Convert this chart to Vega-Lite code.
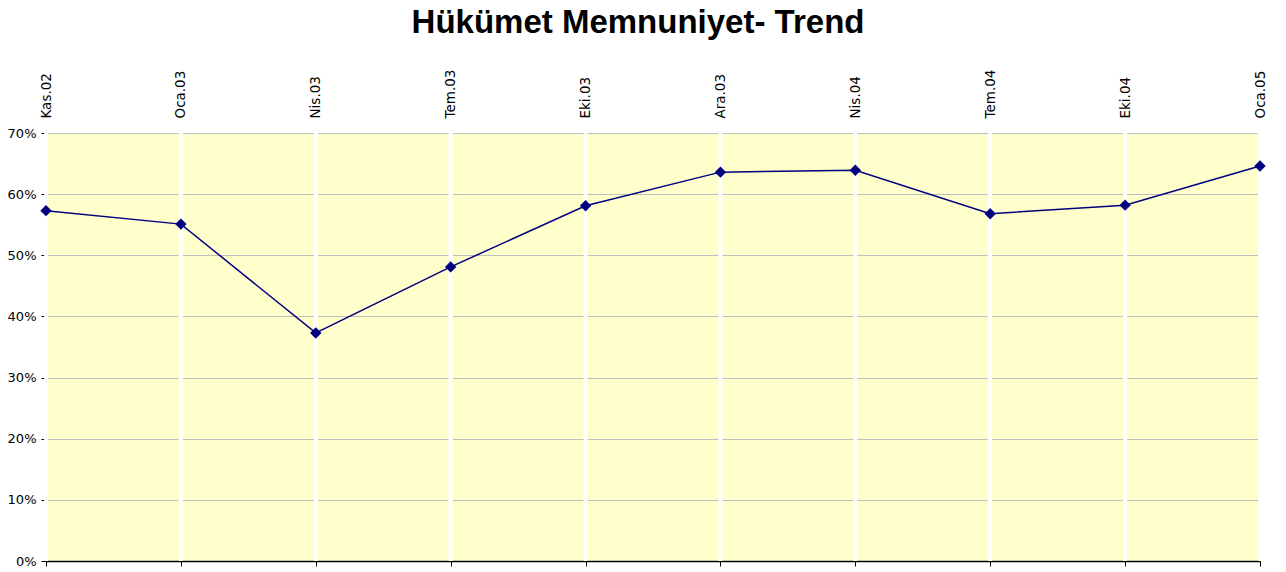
{
  "$schema": "https://vega.github.io/schema/vega-lite/v6.json",
  "width": 1214,
  "height": 428,
  "autosize": {"type": "none"},
  "padding": {"left": 46, "top": 133, "right": 26, "bottom": 11},
  "background": "white",
  "title": {
    "text": "Hükümet Memnuniyet- Trend",
    "font": "Liberation Sans",
    "fontSize": 33,
    "fontWeight": "bold",
    "color": "black",
    "anchor": "middle",
    "offset": 29,
    "dx": -15
  },
  "config": {
    "view": {"fill": "#FFFFCC", "stroke": null},
    "axis": {"labelFont": "DejaVu Sans", "labelColor": "black", "labelFontSize": 13}
  },
  "data": {
    "values": [
      {"d": "Kas.02", "v": 0.573},
      {"d": "Oca.03", "v": 0.551},
      {"d": "Nis.03", "v": 0.373},
      {"d": "Tem.03", "v": 0.481},
      {"d": "Eki.03", "v": 0.581},
      {"d": "Ara.03", "v": 0.636},
      {"d": "Nis.04", "v": 0.639},
      {"d": "Tem.04", "v": 0.568},
      {"d": "Eki.04", "v": 0.582},
      {"d": "Oca.05", "v": 0.646}
    ]
  },
  "layer": [
    {
      "mark": {"type": "rule", "color": "white", "strokeWidth": 4},
      "encoding": {
        "x": {
          "field": "d", "type": "ordinal", "sort": null,
          "scale": {"type": "point", "padding": 0},
          "axis": {
            "orient": "top", "title": null, "labelAngle": -90, "labelAlign": "left",
            "labelBaseline": "middle", "labelPadding": 15, "labelFontSize": 13.5, "ticks": false, "domain": false, "grid": false
          }
        }
      }
    },
    {
      "layer": [
        {
          "mark": {"type": "line", "color": "#000080", "strokeWidth": 1.5},
          "encoding": {
            "x": {"field": "d", "type": "ordinal", "sort": null,
              "scale": {"type": "point", "padding": 0},
              "axis": {"orient": "bottom", "title": null, "labels": false, "ticks": true, "tickSize": 5,
                "tickColor": "black", "domainColor": "black", "domainWidth": 1.5, "grid": false}},
            "y": {
              "field": "v", "type": "quantitative",
              "scale": {"domain": [0, 0.7], "nice": false},
              "axis": {
                "title": null, "format": ".0%", "values": [0, 0.1, 0.2, 0.3, 0.4, 0.5, 0.6, 0.7],
                "tickSize": 5, "tickColor": "black", "domainColor": "black", "domainWidth": 1.5,
                "labelPadding": 5, "gridColor": "#c0c0c0", "gridOpacity": 1, "gridWidth": 1, "grid": true
              }
            }
          }
        },
        {
          "mark": {"type": "point", "shape": "diamond", "filled": true, "color": "#000080", "size": 130, "opacity": 1},
          "encoding": {
            "x": {"field": "d", "type": "ordinal", "sort": null},
            "y": {"field": "v", "type": "quantitative"}
          }
        }
      ]
    }
  ],
  "resolve": {"scale": {"x": "independent"}, "axis": {"x": "independent"}}
}
